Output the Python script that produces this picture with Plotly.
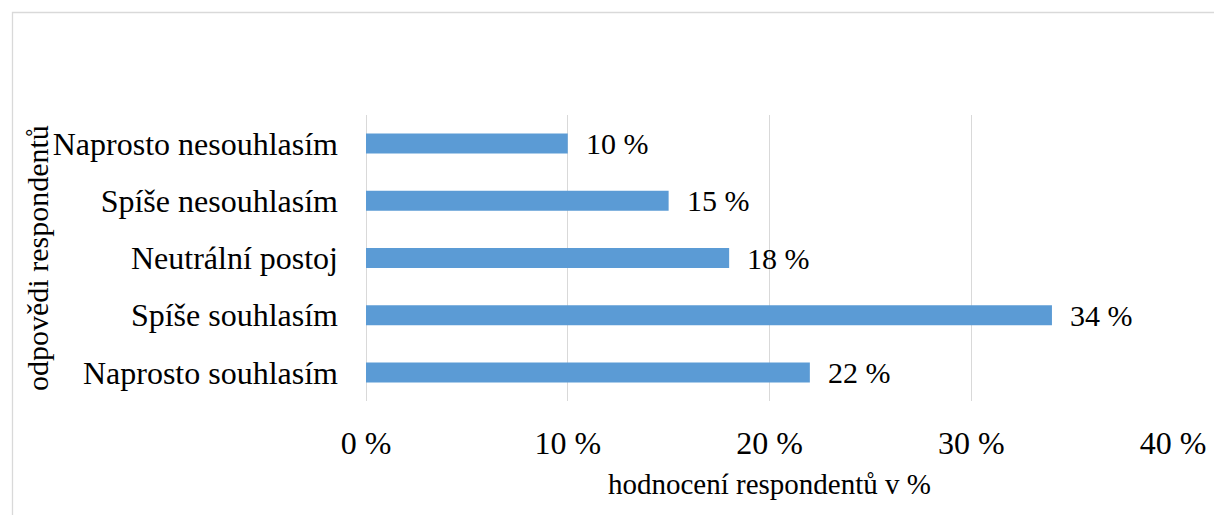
import plotly.graph_objects as go

categories = ["Naprosto souhlasím", "Spíše souhlasím", "Neutrální postoj",
              "Spíše nesouhlasím", "Naprosto nesouhlasím"]
values = [22, 34, 18, 15, 10]
x_ticks = [0, 10, 20, 30, 40]
x_tick_labels = ["0 %", "10 %", "20 %", "30 %", "40 %"]
x_title = "hodnocení respondentů v %"
y_title = "odpovědi respondentů"

W, H = 1214, 515
L, R, T, B = 366, 41, 115, 114
pw, ph = W - L - R, H - T - B

FONT = "Liberation Serif"
fs_tick = 32
fs_lab = 30
fs_title = 30

fig = go.Figure()
fig.add_trace(go.Bar(
    y=categories, x=values, orientation="h",
    marker=dict(color="#5B9BD5", line=dict(width=0)),
    width=0.35, hoverinfo="skip",
))

annotations = []
for c, v in zip(categories, values):
    annotations.append(dict(x=v, y=c, xref="x", yref="y", text=f"{v} %",
                            showarrow=False, xanchor="left", yanchor="middle",
                            xshift=16, font=dict(family=FONT, size=fs_lab, color="#000")))
annotations.append(dict(x=0.5, y=(401 - 484) / ph, xref="paper", yref="paper",
                        text=x_title, showarrow=False, xanchor="center", yanchor="middle",
                        font=dict(family=FONT, size=fs_title - 1, color="#000")))
annotations.append(dict(x=(37 - L) / pw, y=(401 - 258) / ph,
                        xref="paper", yref="paper",
                        text=y_title, showarrow=False, textangle=-90,
                        xanchor="center", yanchor="middle",
                        font=dict(family=FONT, size=fs_title, color="#000")))

shapes = [dict(type="rect", xref="paper", yref="paper",
               x0=(12.5 - L) / pw, x1=(W + 5 - L) / pw,
               y0=(401 - (H + 5)) / ph, y1=(401 - 12.5) / ph,
               line=dict(color="#D9D9D9", width=1.3), fillcolor="rgba(0,0,0,0)",
               layer="below")]

fig.update_layout(
    width=W, height=H,
    margin=dict(l=L, r=R, t=T, b=B, autoexpand=False),
    paper_bgcolor="white", plot_bgcolor="white",
    showlegend=False,
    font=dict(family=FONT, size=fs_tick, color="#000"),
    xaxis=dict(range=[0, 40], tickvals=x_ticks, ticktext=x_tick_labels,
               showgrid=True, gridcolor="#D9D9D9", gridwidth=1.3,
               zeroline=True, zerolinecolor="#D9D9D9", zerolinewidth=1.3,
               showline=False, ticks="", ticklabelstandoff=20,
               tickfont=dict(family=FONT, size=fs_tick, color="#000"), fixedrange=True),
    yaxis=dict(range=[-0.5, 4.5], categoryorder="array", categoryarray=categories,
               showgrid=False, zeroline=False, showline=False, ticks="",
               ticklabelstandoff=27,
               tickfont=dict(family=FONT, size=fs_tick, color="#000"), fixedrange=True),
    annotations=annotations, shapes=shapes,
)

fig.write_html("out.html")
